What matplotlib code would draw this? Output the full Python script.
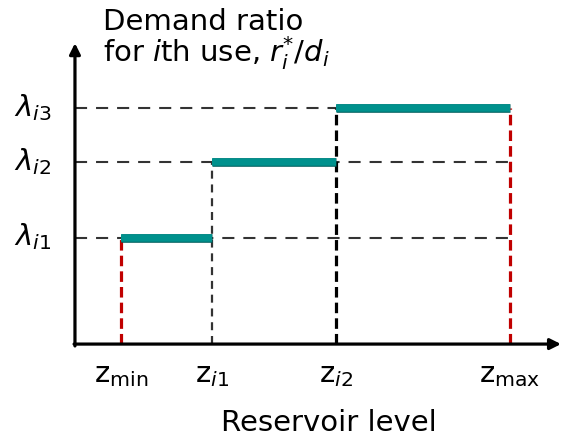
import matplotlib
matplotlib.use("Agg")
import matplotlib.pyplot as plt
import matplotlib.patheffects as pe

plt.rcParams['font.family'] = ['DejaVu Sans']
plt.rcParams['mathtext.fontset'] = 'dejavusans'

# Reservoir levels bounding each zone and the demand ratio in each zone
z_levels = [1.0, 3.0, 5.7, 9.5]          # z_min, z_i1, z_i2, z_max
z_labels = [r'$\mathrm{z}_{\mathrm{min}}$', r'$\mathrm{z}_{i\mathrm{1}}$',
            r'$\mathrm{z}_{i\mathrm{2}}$', r'$\mathrm{z}_{\mathrm{max}}$']
lambdas = [0.45, 0.77, 1.0]              # lambda_i1, lambda_i2, lambda_i3
lambda_labels = [r'$\lambda_{i\mathrm{1}}$', r'$\lambda_{i\mathrm{2}}$',
                 r'$\lambda_{i\mathrm{3}}$']

W, H = 561, 438
fig = plt.figure(figsize=(W / 100, H / 100), dpi=100)
ax = fig.add_axes([0, 0, 1, 1])
ax.set_xlim(-1.638, 10.62)
ax.set_ylim(-0.398, 1.458)
ax.axis('off')

teal = '#00918D'
red = '#C00000'

# horizontal guide lines at each demand ratio
for i, lam in enumerate(lambdas):
    x_end = z_levels[-1] if i < 2 else z_levels[2]
    ax.plot([0, x_end], [lam, lam], color='#333333', lw=1.5,
            dashes=(5.8, 4.3), zorder=1)

# vertical guide lines at each zone boundary
ax.plot([z_levels[0]] * 2, [0, lambdas[0]], color=red, lw=2.3,
        dashes=(3.3, 1.6), zorder=1)
ax.plot([z_levels[1]] * 2, [0, lambdas[1]], color='#333333', lw=1.6,
        dashes=(3.6, 2.6), zorder=1)
ax.plot([z_levels[2]] * 2, [0, lambdas[2]], color='black', lw=2.3,
        dashes=(3.3, 1.6), zorder=1)
ax.plot([z_levels[3]] * 2, [0, lambdas[2]], color=red, lw=2.3,
        dashes=(3.3, 1.6), zorder=1)

# step function of the demand ratio
for k, lam in enumerate(lambdas):
    ax.plot([z_levels[k], z_levels[k + 1]], [lam, lam], color=teal, lw=5.4,
            solid_capstyle='butt', zorder=3,
            path_effects=[pe.Stroke(linewidth=6.2, foreground='#00605E'),
                          pe.Normal()])

# axes with arrowheads
arrow = dict(arrowstyle='-|>', color='black', lw=2.3, mutation_scale=16,
             shrinkA=0, shrinkB=0)
ax.annotate('', xy=(0, 1.275), xytext=(0, -0.008), arrowprops=arrow, zorder=4)
ax.annotate('', xy=(10.62, 0), xytext=(-0.02, 0), arrowprops=arrow, zorder=4)

# tick labels
for lam, lab in zip(lambdas, lambda_labels):
    ax.annotate(lab, xy=(0, lam), xytext=(-44, -5.5), textcoords='offset points',
                ha='left', va='baseline', fontsize=21)
for z, lab in zip(z_levels, z_labels):
    ax.annotate(lab, xy=(z, 0), xytext=(0, -27.5), textcoords='offset points',
                ha='center', va='baseline', fontsize=21)

# axis titles
fig.text(103 / W, 1 - 30 / H, 'Demand ratio', ha='left', va='baseline',
         fontsize=21)
fig.text(103 / W, 1 - 62 / H, r'for $i$th use, $r_i^{*}/d_i$', ha='left',
         va='baseline', fontsize=21)
fig.text(329 / W, 1 - 431 / H, 'Reservoir level', ha='center', va='baseline',
         fontsize=21)

fig.savefig('out.png', dpi=100)
